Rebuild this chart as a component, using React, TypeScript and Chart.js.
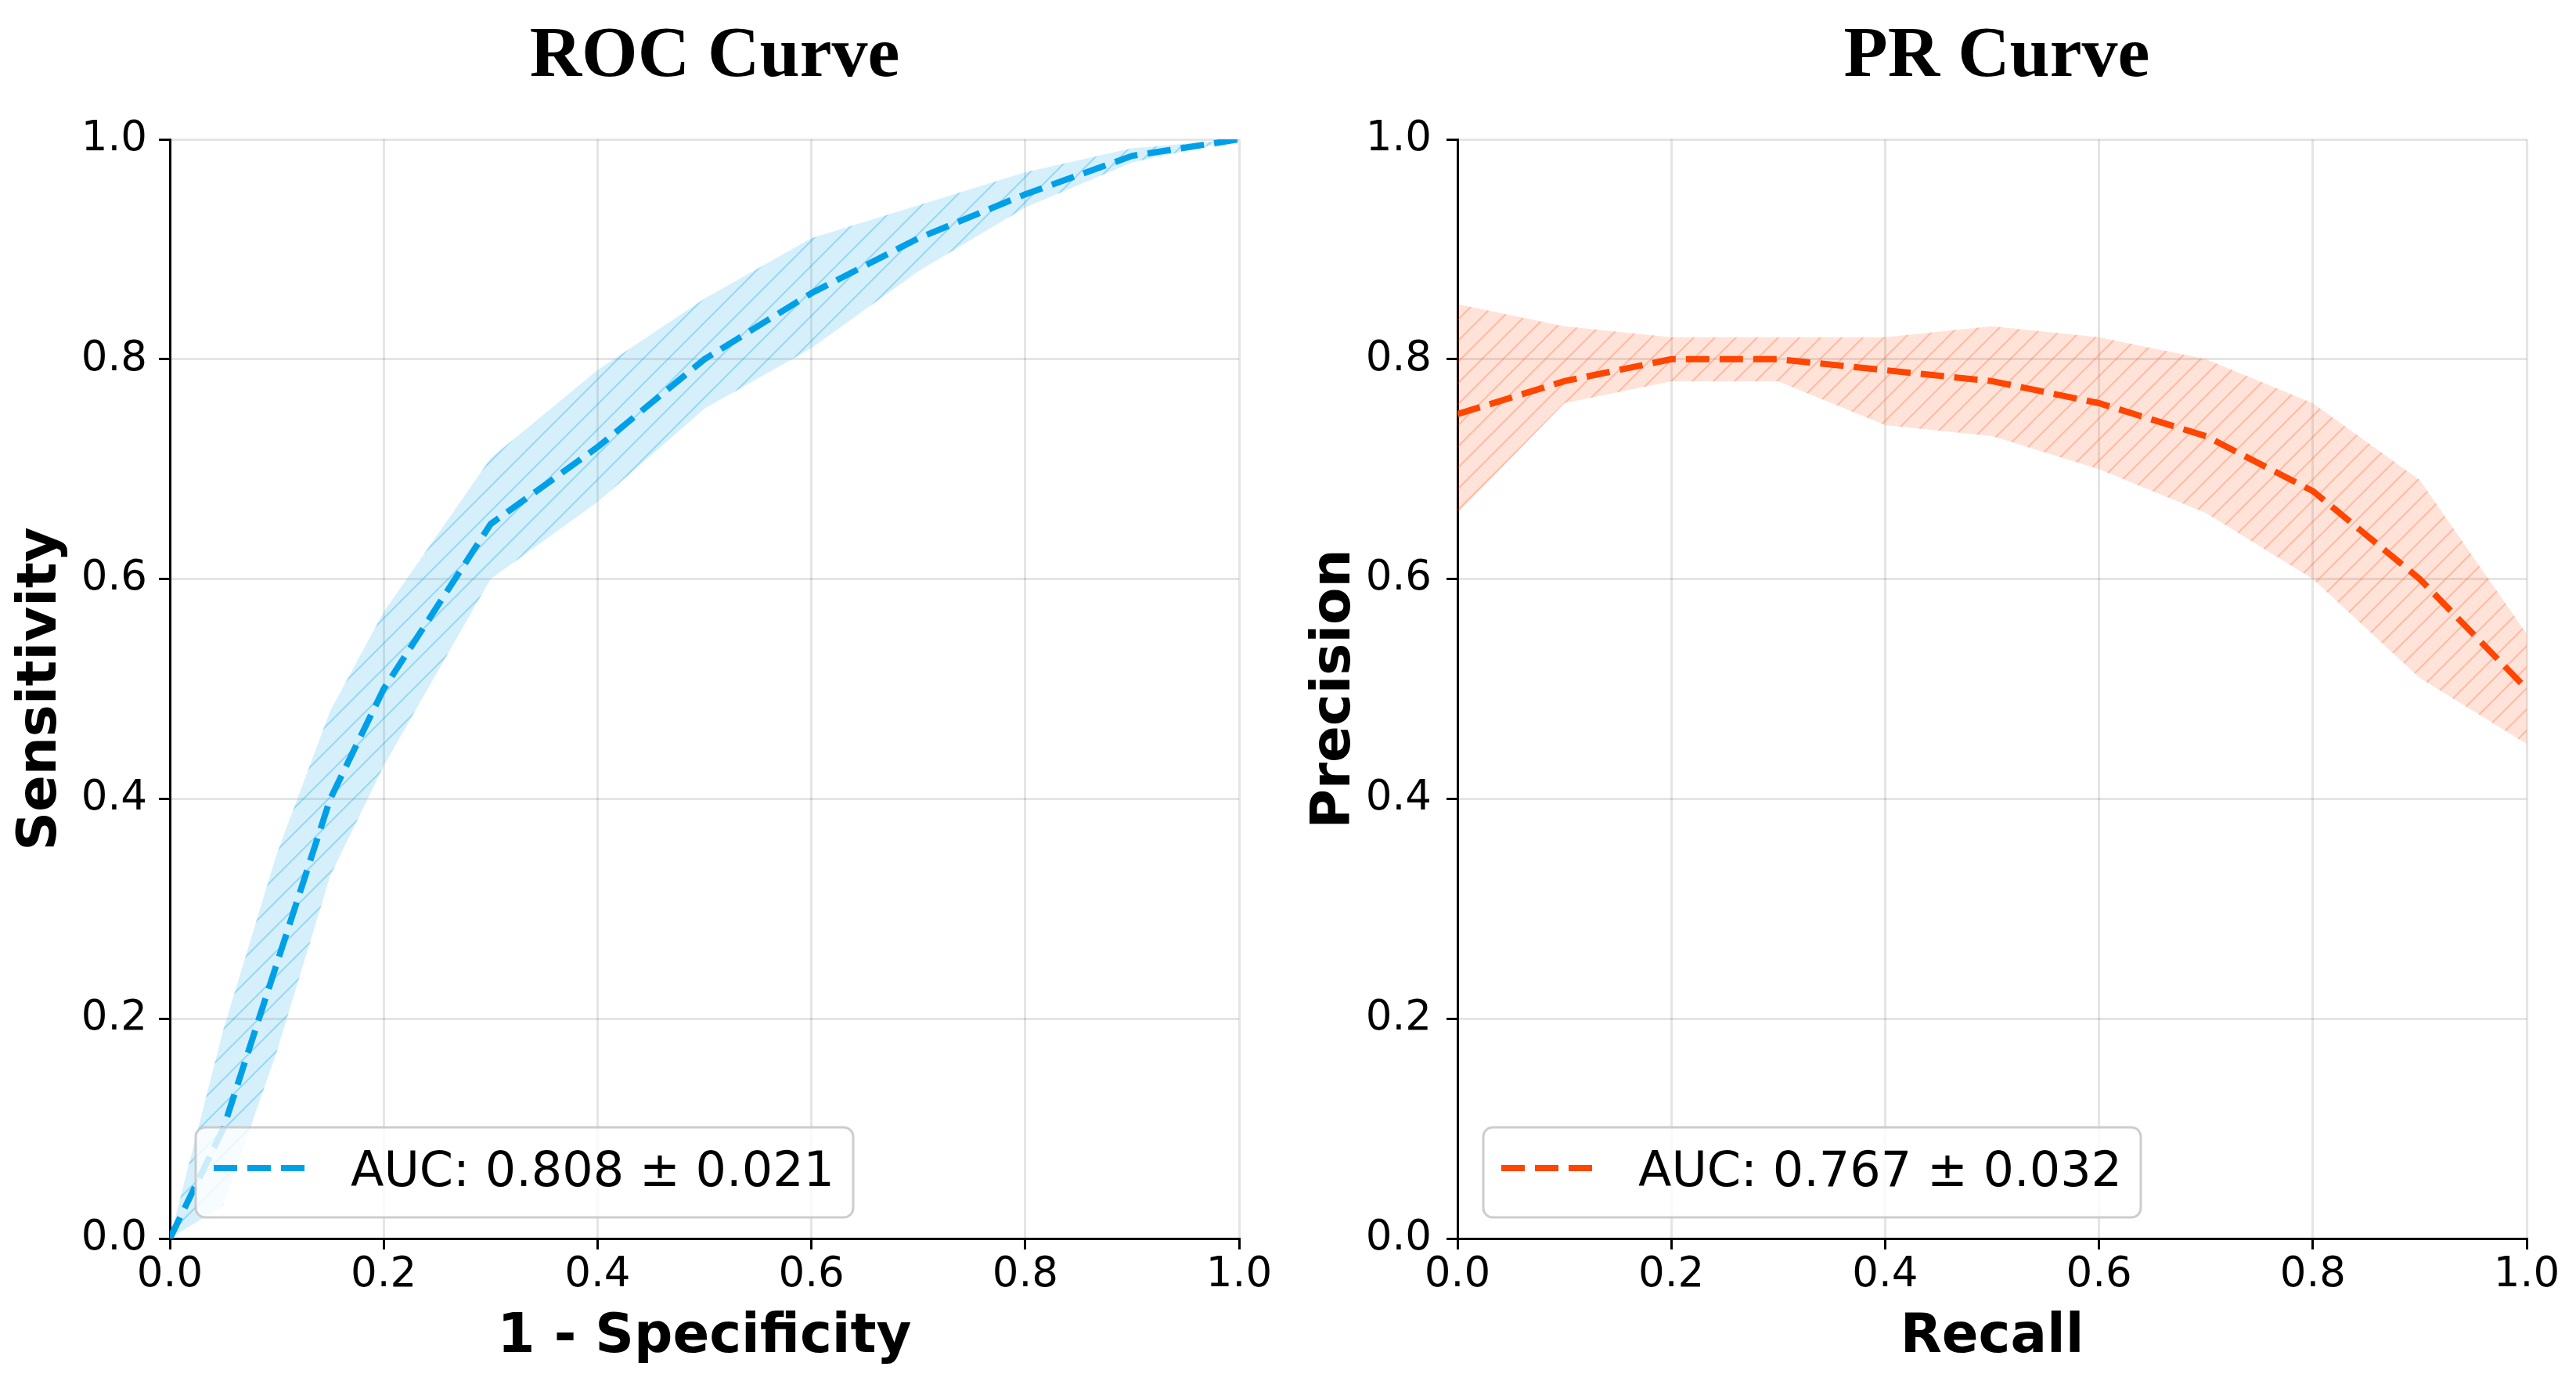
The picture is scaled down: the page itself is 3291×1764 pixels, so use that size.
import { useEffect, useRef } from 'react';
import { Chart, registerables } from 'chart.js';
import type { Plugin } from 'chart.js';

Chart.register(...registerables);

// ROC curve (mean ± band)
const ROC_FPR = [0, 0.05, 0.1, 0.15, 0.2, 0.3, 0.4, 0.5, 0.6, 0.7, 0.8, 0.9, 1.0];
const ROC_TPR_MEAN = [0, 0.1, 0.25, 0.4, 0.5, 0.65, 0.72, 0.8, 0.86, 0.91, 0.95, 0.985, 1.0];
const ROC_TPR_UPPER = [0, 0.19, 0.35, 0.48, 0.57, 0.71, 0.79, 0.855, 0.91, 0.94, 0.97, 0.992, 1.0];
const ROC_TPR_LOWER = [0, 0.03, 0.17, 0.33, 0.43, 0.6, 0.67, 0.755, 0.81, 0.88, 0.938, 0.979, 1.0];

// PR curve (mean ± band)
const PR_RECALL = [0, 0.1, 0.2, 0.3, 0.4, 0.5, 0.6, 0.7, 0.8, 0.9, 1.0];
const PR_PRECISION_MEAN = [0.75, 0.78, 0.8, 0.8, 0.79, 0.78, 0.76, 0.73, 0.68, 0.6, 0.5];
const PR_PRECISION_UPPER = [0.85, 0.83, 0.82, 0.82, 0.82, 0.83, 0.82, 0.8, 0.76, 0.69, 0.55];
const PR_PRECISION_LOWER = [0.66, 0.76, 0.78, 0.78, 0.74, 0.73, 0.7, 0.66, 0.6, 0.51, 0.45];

const AXIS_TICKS = [0, 0.2, 0.4, 0.6, 0.8, 1.0];

const ROC_LABEL = 'AUC: 0.808 ± 0.021';
const PR_LABEL = 'AUC: 0.767 ± 0.032';

const SANS = 'DejaVu Sans';

const makeHatch = (fill: string, line: string, size: number) => {
  const c = document.createElement('canvas');
  c.width = size;
  c.height = size;
  const g = c.getContext('2d')!;
  g.fillStyle = fill;
  g.fillRect(0, 0, size, size);
  g.strokeStyle = line;
  g.lineWidth = 2;
  g.beginPath();
  g.moveTo(-2, size + 2);
  g.lineTo(size + 2, -2);
  g.moveTo(-2, 2);
  g.lineTo(2, -2);
  g.moveTo(size - 2, size + 2);
  g.lineTo(size + 2, size - 2);
  g.stroke();
  return g.createPattern(c, 'repeat');
};

const panelTitle: Plugin = {
  id: 'panelTitle',
  afterDraw(chart, _args, opts: any) {
    const { ctx, chartArea } = chart;
    ctx.save();
    ctx.font = `bold 92px "Liberation Serif"`;
    ctx.fillStyle = '#000';
    ctx.textAlign = 'center';
    ctx.textBaseline = 'alphabetic';
    ctx.fillText(opts.text, (chartArea.left + chartArea.right) / 2 + opts.shift, 97);
    ctx.restore();
  },
};

const legendBox: Plugin = {
  id: 'legendBox',
  afterDraw(chart, _args, opts: any) {
    const { ctx, chartArea } = chart;
    const w = 840;
    const h = 115;
    const x = chartArea.left + 33;
    const y = chartArea.bottom - 27 - h;
    ctx.save();
    ctx.beginPath();
    ctx.roundRect(x, y, w, h, 12);
    ctx.fillStyle = 'rgba(255,255,255,0.8)';
    ctx.fill();
    ctx.strokeStyle = 'rgba(200,200,200,0.9)';
    ctx.lineWidth = 3;
    ctx.stroke();
    ctx.beginPath();
    ctx.setLineDash([30, 13]);
    ctx.lineWidth = 8;
    ctx.strokeStyle = opts.color;
    ctx.moveTo(x + 23, y + 52);
    ctx.lineTo(x + 148, y + 52);
    ctx.stroke();
    ctx.setLineDash([]);
    ctx.fillStyle = '#000';
    ctx.font = `62px "${SANS}"`;
    ctx.textBaseline = 'alphabetic';
    ctx.fillText(opts.text, x + 198, y + 75);
    ctx.restore();
  },
};

interface PanelProps {
  title: string;
  titleShift: number;
  xTitle: string;
  yTitle: string;
  xs: number[];
  mean: number[];
  upper: number[];
  lower: number[];
  label: string;
  color: string;
  bandFill: string;
  hatchLine: string;
  hatchSize: number;
  width: number;
  left: number;
  yAxisWidth: number;
  rightPad: number;
  yTitlePad: number;
  yTickPad: number;
}

const CurvePanel = (p: PanelProps) => {
  const canvasRef = useRef<HTMLCanvasElement>(null);
  const chartRef = useRef<Chart | null>(null);

  useEffect(() => {
    if (!canvasRef.current) return;
    if (chartRef.current) chartRef.current.destroy();

    const pts = (ys: number[]) => p.xs.map((x, i) => ({ x, y: ys[i] }));
    const tickFmt = (v: string | number) => Number(v).toFixed(1);
    const setTicks = (s: any) => {
      s.ticks = AXIS_TICKS.map((value) => ({ value }));
    };
    const grid = {
      color: 'rgba(0,0,0,0.1)',
      lineWidth: 3,
      tickLength: 14,
      tickColor: '#000',
      tickWidth: 3,
    };

    chartRef.current = new Chart(canvasRef.current, {
      type: 'line',
      data: {
        datasets: [
          {
            label: p.label,
            data: pts(p.mean),
            borderColor: p.color,
            borderWidth: 8,
            borderDash: [30, 13],
            borderCapStyle: 'butt',
            pointRadius: 0,
            fill: false,
            tension: 0,
          },
          {
            label: 'upper',
            data: pts(p.upper),
            borderWidth: 0,
            borderColor: 'rgba(0,0,0,0)',
            pointRadius: 0,
            fill: '+1',
            backgroundColor: makeHatch(p.bandFill, p.hatchLine, p.hatchSize) as any,
            tension: 0,
          },
          {
            label: 'lower',
            data: pts(p.lower),
            borderWidth: 0,
            borderColor: 'rgba(0,0,0,0)',
            pointRadius: 0,
            fill: false,
            tension: 0,
          },
        ],
      },
      options: {
        responsive: false,
        devicePixelRatio: 1,
        animation: false,
        events: [],
        layout: { padding: { top: 178, right: p.rightPad, left: 0, bottom: 0 } },
        scales: {
          x: {
            type: 'linear',
            min: 0,
            max: 1,
            afterBuildTicks: setTicks,
            afterFit: (s: any) => {
              s.height = 182;
            },
            ticks: {
              font: { family: SANS, size: 53 },
              color: '#000',
              padding: 1,
              maxRotation: 0,
              autoSkip: false,
              callback: tickFmt,
            },
            grid,
            border: { color: '#000', width: 3 },
            title: {
              display: true,
              text: p.xTitle,
              color: '#000',
              font: { family: SANS, size: 69, weight: 'bold' },
              padding: { top: 0, bottom: 14 },
            },
          },
          y: {
            type: 'linear',
            min: 0,
            max: 1,
            afterBuildTicks: setTicks,
            afterFit: (s: any) => {
              s.width = p.yAxisWidth;
            },
            ticks: {
              font: { family: SANS, size: 53 },
              color: '#000',
              padding: p.yTickPad,
              autoSkip: false,
              callback: tickFmt,
            },
            grid,
            border: { color: '#000', width: 3 },
            title: {
              display: true,
              text: p.yTitle,
              color: '#000',
              font: { family: SANS, size: 69, weight: 'bold' },
              padding: { top: p.yTitlePad, bottom: 0 },
            },
          },
        },
        plugins: {
          legend: { display: false },
          tooltip: { enabled: false },
          panelTitle: { text: p.title, shift: p.titleShift },
          legendBox: { text: p.label, color: p.color },
        } as any,
      },
      plugins: [panelTitle, legendBox],
    });

    return () => {
      if (chartRef.current) {
        chartRef.current.destroy();
        chartRef.current = null;
      }
    };
  }, [p]);

  return (
    <div style={{ position: 'absolute', left: p.left, top: 0, width: p.width, height: 1764 }}>
      <canvas ref={canvasRef} width={p.width} height={1764} />
    </div>
  );
};

const rocProps: PanelProps = {
  title: 'ROC Curve',
  titleShift: 13,
  xTitle: '1 - Specificity',
  yTitle: 'Sensitivity',
  xs: ROC_FPR,
  mean: ROC_TPR_MEAN,
  upper: ROC_TPR_UPPER,
  lower: ROC_TPR_LOWER,
  label: ROC_LABEL,
  color: '#00A0E9',
  bandFill: 'rgba(0,160,233,0.16)',
  hatchLine: 'rgba(0,160,233,0.3)',
  hatchSize: 32,
  width: 1650,
  left: 0,
  yAxisWidth: 217,
  rightPad: 67,
  yTitlePad: 12,
  yTickPad: 15,
};

const prProps: PanelProps = {
  title: 'PR Curve',
  titleShift: 6,
  xTitle: 'Recall',
  yTitle: 'Precision',
  xs: PR_RECALL,
  mean: PR_PRECISION_MEAN,
  upper: PR_PRECISION_UPPER,
  lower: PR_PRECISION_LOWER,
  label: PR_LABEL,
  color: '#FF4500',
  bandFill: 'rgba(255,69,0,0.15)',
  hatchLine: 'rgba(255,69,0,0.25)',
  hatchSize: 27,
  width: 1641,
  left: 1650,
  yAxisWidth: 212,
  rightPad: 63,
  yTitlePad: 15,
  yTickPad: 19,
};

export default function App() {
  return (
    <div
      style={{
        position: 'absolute',
        left: 0,
        top: 0,
        width: 3291,
        height: 1764,
        background: '#fff',
        overflow: 'hidden',
      }}
    >
      <CurvePanel {...rocProps} />
      <CurvePanel {...prProps} />
    </div>
  );
}
